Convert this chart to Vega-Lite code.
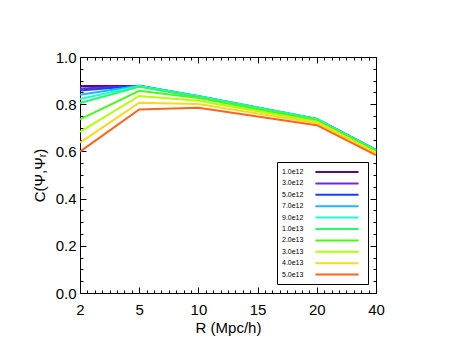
{
  "$schema": "https://vega.github.io/schema/vega-lite/v6.json",
  "width": 296,
  "height": 236,
  "autosize": {"type": "none"},
  "padding": {"left": 80, "top": 57, "right": 81, "bottom": 58},
  "background": "white",
  "config": {
    "font": "Liberation Sans",
    "view": {"stroke": "black", "strokeWidth": 1},
    "axis": {
      "domainColor": "black",
      "tickColor": "black",
      "labelColor": "black",
      "titleColor": "black",
      "labelFont": "Liberation Sans",
      "titleFont": "Liberation Sans",
      "labelFontSize": 15,
      "titleFontSize": 15,
      "titleFontWeight": "normal",
      "grid": false
    }
  },
  "data": {
    "values": [
      {"R": 2, "M": "1.0e12", "C": 0.877}, {"R": 5, "M": "1.0e12", "C": 0.877}, {"R": 10, "M": "1.0e12", "C": 0.832}, {"R": 20, "M": "1.0e12", "C": 0.735}, {"R": 40, "M": "1.0e12", "C": 0.604},
      {"R": 2, "M": "3.0e12", "C": 0.867}, {"R": 5, "M": "3.0e12", "C": 0.877}, {"R": 10, "M": "3.0e12", "C": 0.833}, {"R": 20, "M": "3.0e12", "C": 0.736}, {"R": 40, "M": "3.0e12", "C": 0.605},
      {"R": 2, "M": "5.0e12", "C": 0.858}, {"R": 5, "M": "5.0e12", "C": 0.878}, {"R": 10, "M": "5.0e12", "C": 0.834}, {"R": 20, "M": "5.0e12", "C": 0.737}, {"R": 40, "M": "5.0e12", "C": 0.606},
      {"R": 2, "M": "7.0e12", "C": 0.840}, {"R": 5, "M": "7.0e12", "C": 0.878}, {"R": 10, "M": "7.0e12", "C": 0.835}, {"R": 20, "M": "7.0e12", "C": 0.737}, {"R": 40, "M": "7.0e12", "C": 0.606},
      {"R": 2, "M": "9.0e12", "C": 0.822}, {"R": 5, "M": "9.0e12", "C": 0.877}, {"R": 10, "M": "9.0e12", "C": 0.834}, {"R": 20, "M": "9.0e12", "C": 0.737}, {"R": 40, "M": "9.0e12", "C": 0.605},
      {"R": 2, "M": "1.0e13", "C": 0.805}, {"R": 5, "M": "1.0e13", "C": 0.874}, {"R": 10, "M": "1.0e13", "C": 0.832}, {"R": 20, "M": "1.0e13", "C": 0.735}, {"R": 40, "M": "1.0e13", "C": 0.603},
      {"R": 2, "M": "2.0e13", "C": 0.736}, {"R": 5, "M": "2.0e13", "C": 0.857}, {"R": 10, "M": "2.0e13", "C": 0.826}, {"R": 20, "M": "2.0e13", "C": 0.731}, {"R": 40, "M": "2.0e13", "C": 0.600},
      {"R": 2, "M": "3.0e13", "C": 0.683}, {"R": 5, "M": "3.0e13", "C": 0.835}, {"R": 10, "M": "3.0e13", "C": 0.815}, {"R": 20, "M": "3.0e13", "C": 0.726}, {"R": 40, "M": "3.0e13", "C": 0.596},
      {"R": 2, "M": "4.0e13", "C": 0.637}, {"R": 5, "M": "4.0e13", "C": 0.806}, {"R": 10, "M": "4.0e13", "C": 0.801}, {"R": 20, "M": "4.0e13", "C": 0.720}, {"R": 40, "M": "4.0e13", "C": 0.592},
      {"R": 2, "M": "5.0e13", "C": 0.599}, {"R": 5, "M": "5.0e13", "C": 0.778}, {"R": 10, "M": "5.0e13", "C": 0.785}, {"R": 20, "M": "5.0e13", "C": 0.711}, {"R": 40, "M": "5.0e13", "C": 0.584}
    ]
  },
  "layer": [
    {
      "mark": {"type": "line", "strokeWidth": 2},
      "encoding": {
        "x": {
          "field": "R", "type": "quantitative",
          "scale": {"domain": [2, 5, 10, 15, 20, 40], "range": [0, 59.2, 118.4, 177.6, 236.8, 296], "nice": false, "zero": false},
          "axis": {"orient": "bottom", "values": [2, 5, 10, 15, 20, 40], "format": "d", "title": "R (Mpc/h)", "tickSize": -6, "labelPadding": 15, "titlePadding": 3, "labelFlush": false, "domain": false}
        },
        "y": {
          "field": "C", "type": "quantitative",
          "scale": {"domain": [0, 1], "nice": false, "zero": false},
          "axis": {"orient": "left", "values": [0, 0.2, 0.4, 0.6, 0.8, 1.0], "format": ".1f", "title": "C(Ψ,Ψᵣ)", "tickSize": -6, "labelPadding": 10, "titlePadding": 8, "labelFlush": false, "domain": false}
        },
        "color": {
          "field": "M", "type": "nominal",
          "scale": {
            "domain": ["1.0e12", "3.0e12", "5.0e12", "7.0e12", "9.0e12", "1.0e13", "2.0e13", "3.0e13", "4.0e13", "5.0e13"],
            "range": ["#5c0a78", "#6b2be0", "#1e3cff", "#1eb4ff", "#1effd7", "#1eff6a", "#50f51e", "#b4ff00", "#ffd71e", "#ff6419"]
          },
          "legend": {
            "orient": "none", "legendX": 197, "legendY": 105,
            "title": null, "symbolType": "M-5.4,0H5.4", "symbolSize": 64, "symbolStrokeWidth": 2,
            "symbolOffset": 50,
            "labelFont": "Liberation Sans", "labelFontSize": 7, "labelColor": "black",
            "labelAlign": "left", "labelOffset": -60,
            "strokeColor": "black", "fillColor": "white", "padding": 5,
            "rowPadding": 2.4
          }
        }
      }
    },
    {
      "mark": {"type": "line", "opacity": 0},
      "encoding": {
        "detail": {"field": "M"},
        "x": {
          "field": "R", "type": "quantitative",
          "scale": {"domain": [2, 5, 10, 15, 20, 40], "range": [0, 59.2, 118.4, 177.6, 236.8, 296], "nice": false, "zero": false},
          "axis": {"orient": "top", "values": [2, 5, 10, 15, 20, 40], "labels": false, "title": null, "tickSize": -6, "domain": false}
        },
        "y": {
          "field": "C", "type": "quantitative",
          "scale": {"domain": [0, 1], "nice": false, "zero": false},
          "axis": {"orient": "right", "values": [0, 0.2, 0.4, 0.6, 0.8, 1.0], "labels": false, "title": null, "tickSize": -6, "domain": false}
        }
      }
    },
    {
      "mark": {"type": "line", "opacity": 0},
      "encoding": {
        "detail": {"field": "M"},
        "x": {
          "field": "R", "type": "quantitative",
          "scale": {"domain": [2, 5, 10, 15, 20, 40], "range": [0, 59.2, 118.4, 177.6, 236.8, 296], "nice": false, "zero": false},
          "axis": {"orient": "bottom", "values": [2.375, 2.75, 3.125, 3.5, 3.875, 4.25, 4.625, 5.625, 6.25, 6.875, 7.5, 8.125, 8.75, 9.375, 10.625, 11.25, 11.875, 12.5, 13.125, 13.75, 14.375, 15.625, 16.25, 16.875, 17.5, 18.125, 18.75, 19.375, 22.5, 25, 27.5, 30, 32.5, 35, 37.5], "labels": false, "title": null, "tickSize": -3, "domain": false}
        },
        "y": {
          "field": "C", "type": "quantitative",
          "scale": {"domain": [0, 1], "nice": false, "zero": false},
          "axis": {"orient": "left", "values": [0.05, 0.1, 0.15, 0.25, 0.3, 0.35, 0.45, 0.5, 0.55, 0.65, 0.7, 0.75, 0.85, 0.9, 0.95], "labels": false, "title": null, "tickSize": -3, "domain": false}
        }
      }
    },
    {
      "mark": {"type": "line", "opacity": 0},
      "encoding": {
        "detail": {"field": "M"},
        "x": {
          "field": "R", "type": "quantitative",
          "scale": {"domain": [2, 5, 10, 15, 20, 40], "range": [0, 59.2, 118.4, 177.6, 236.8, 296], "nice": false, "zero": false},
          "axis": {"orient": "top", "values": [2.375, 2.75, 3.125, 3.5, 3.875, 4.25, 4.625, 5.625, 6.25, 6.875, 7.5, 8.125, 8.75, 9.375, 10.625, 11.25, 11.875, 12.5, 13.125, 13.75, 14.375, 15.625, 16.25, 16.875, 17.5, 18.125, 18.75, 19.375, 22.5, 25, 27.5, 30, 32.5, 35, 37.5], "labels": false, "title": null, "tickSize": -3, "domain": false}
        },
        "y": {
          "field": "C", "type": "quantitative",
          "scale": {"domain": [0, 1], "nice": false, "zero": false},
          "axis": {"orient": "right", "values": [0.05, 0.1, 0.15, 0.25, 0.3, 0.35, 0.45, 0.5, 0.55, 0.65, 0.7, 0.75, 0.85, 0.9, 0.95], "labels": false, "title": null, "tickSize": -3, "domain": false}
        }
      }
    }
  ],
  "resolve": {"axis": {"x": "independent", "y": "independent"}}
}
